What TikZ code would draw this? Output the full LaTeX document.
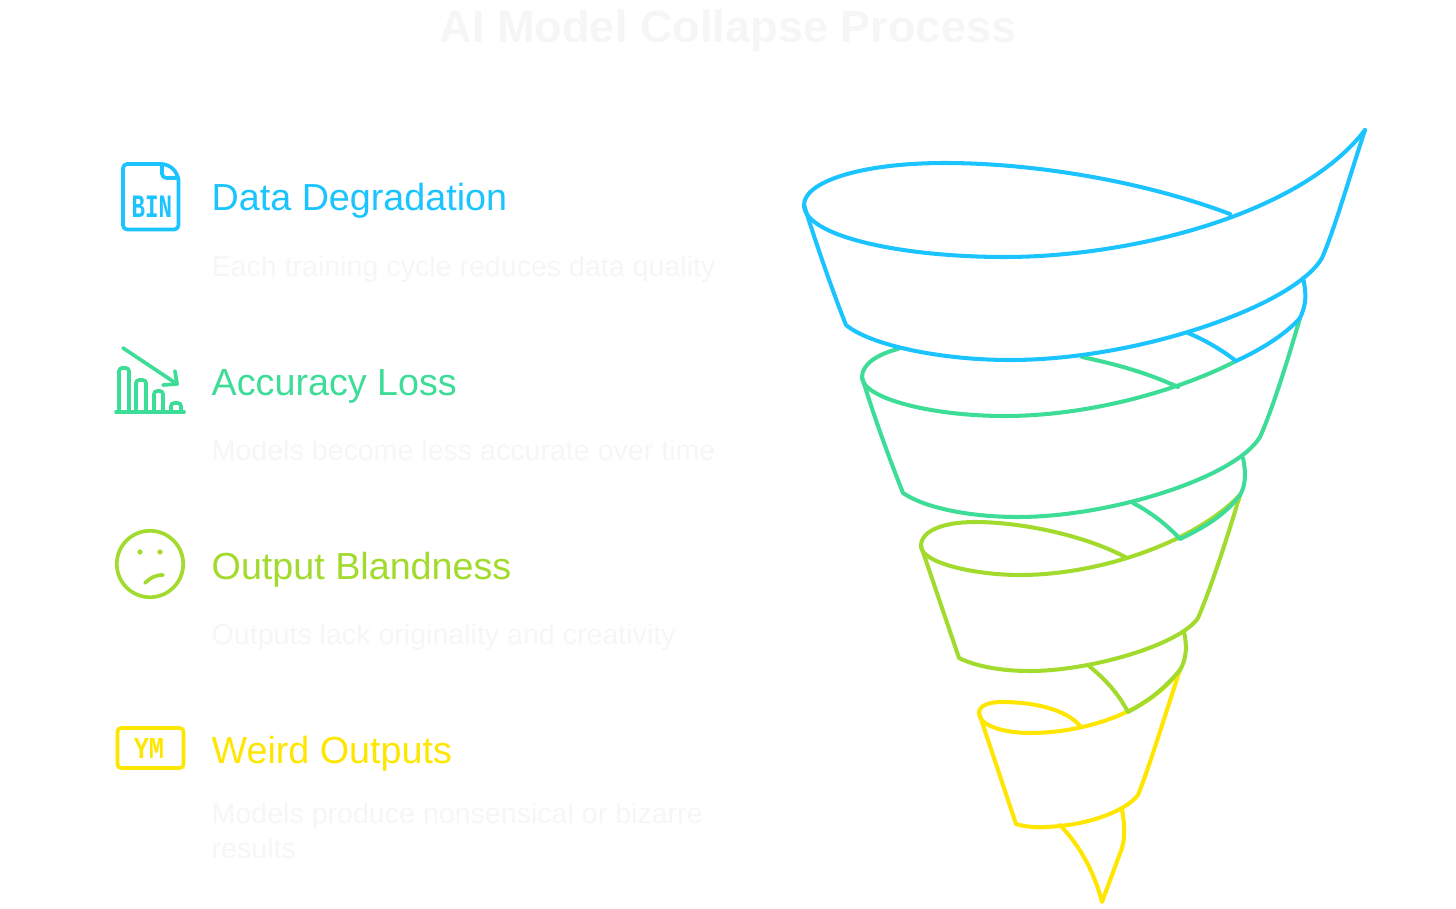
\documentclass[tikz,border=0pt]{standalone}
\usepackage{xcolor}
\usepackage{fontspec}
\setmainfont{Liberation Sans}
\newfontfamily\iconfont{Liberation Mono}[BoldFont={Liberation Mono Bold}]
\definecolor{cblue}{HTML}{1CC4FF}
\definecolor{cgreen}{HTML}{3DDC97}
\definecolor{clime}{HTML}{A2DB2E}
\definecolor{cyellow}{HTML}{FFE600}
\definecolor{cfaint}{HTML}{F6F6F6}
\tikzset{
    band/.style={line width=1.15pt, line join=round, line cap=round},
    icon/.style={line width=1.05pt, line join=round, line cap=round},
    heading/.style={anchor=base west, inner sep=0pt, font=\fontsize{10.72}{12.5}\selectfont},
    blurb/.style={anchor=base west, inner sep=0pt, text=cfaint, font=\fontsize{8.13}{9.96}\selectfont},
}

\begin{document}
\begin{tikzpicture}[x=0.01cm, y=-0.01cm]
            \useasboundingbox (0, 0) rectangle (1456, 909);

            \node[anchor=base, inner sep=0pt, text=cfaint, font=\fontsize{12.83}{15}\selectfont\bfseries] (title) at (728, 43) {AI Model Collapse Process};

            % yellow band
            \draw[band, cyellow] (1081, 727) .. controls (1066, 708) and (1030, 702) .. (1002, 702) .. controls (988, 702) and (979, 706) .. (979, 713) .. controls (979, 726) and (1005, 733) .. (1030, 733) .. controls (1085, 733) and (1150, 712) .. (1180, 670);
            \draw[band, cyellow] (1180, 670) .. controls (1165, 715) and (1150, 765) .. (1138, 795) .. controls (1125, 812) and (1085, 826) .. (1045, 827) .. controls (1035, 828) and (1022, 826) .. (1016, 824) -- (979, 713);
            \draw[band, cyellow] (1122, 810) .. controls (1125, 825) and (1125, 838) .. (1122, 848) -- (1102, 902) .. controls (1095, 875) and (1082, 848) .. (1060, 825);

            % lime band
            \draw[band, clime] (1127, 558) .. controls (1085, 535) and (1020, 522) .. (975, 522) .. controls (945, 522) and (921, 530) .. (921, 546) .. controls (921, 563) and (975, 575) .. (1020, 575) .. controls (1100, 575) and (1195, 542) .. (1240, 495);
            \draw[band, clime] (1240, 495) .. controls (1225, 545) and (1210, 590) .. (1198, 618) .. controls (1180, 645) and (1090, 671) .. (1030, 671) .. controls (1000, 671) and (975, 666) .. (959, 658) -- (921, 546);
            \draw[band, clime] (1184, 632) .. controls (1187, 645) and (1187, 658) .. (1180, 670) .. controls (1165, 688) and (1150, 700) .. (1128, 712) .. controls (1118, 693) and (1105, 679) .. (1089, 666);

            % green band
            \draw[band, cgreen] (1178, 387) .. controls (1145, 372) and (1115, 364) .. (1082, 357);
            \draw[band, cgreen] (898, 349) .. controls (878, 354) and (862, 364) .. (862, 377) .. controls (862, 398) and (930, 416) .. (1005, 416) .. controls (1090, 416) and (1180, 390) .. (1236, 361);
            \draw[band, cgreen] (1300, 318) .. controls (1285, 370) and (1270, 415) .. (1260, 437) .. controls (1235, 478) and (1110, 517) .. (1018, 517) .. controls (970, 517) and (925, 508) .. (903, 493) .. controls (890, 460) and (875, 420) .. (862, 377);
            \draw[band, cgreen] (1243, 458) .. controls (1246, 472) and (1246, 485) .. (1240, 495) .. controls (1225, 515) and (1205, 527) .. (1180, 539) .. controls (1167, 525) and (1152, 513) .. (1133, 503);

            % blue band
            \draw[band, cblue] (1230, 214) .. controls (1140, 180) and (1030, 163) .. (945, 163) .. controls (860, 163) and (804, 182) .. (804, 205) .. controls (804, 236) and (900, 257) .. (1005, 257) .. controls (1130, 257) and (1300, 215) .. (1365, 130);
            \draw[band, cblue] (1365, 130) .. controls (1350, 175) and (1335, 228) .. (1322, 258) .. controls (1295, 305) and (1140, 360) .. (1010, 360) .. controls (940, 360) and (870, 345) .. (846, 325) .. controls (832, 290) and (815, 240) .. (804, 205);
            \draw[band, cblue] (1303, 278) .. controls (1307, 295) and (1306, 305) .. (1300, 318) .. controls (1285, 335) and (1260, 350) .. (1236, 361) .. controls (1222, 350) and (1205, 340) .. (1188, 333);

            % file icon
            \draw[icon, cblue, rounded corners=1.2pt] (162, 164) -- (123, 164) -- (123, 229.5) -- (178.5, 229.5) -- (178.5, 180);
            \draw[icon, cblue] (162, 164) .. controls (171, 165) and (177, 171) .. (178.5, 180);
            \draw[icon, cblue, rounded corners=1.2pt] (162, 164) -- (162, 178) -- (178.5, 178);
            \node[inner sep=0pt, text=cblue, yscale=1.45, font=\fontsize{6.4}{7}\iconfont\bfseries] (binlabel) at (152, 207) {BIN};
            \node[heading, text=cblue] (head1) at (211, 211) {Data Degradation};
            \node[blurb] (blurb1) at (211, 276) {Each training cycle reduces data quality};

            % chart icon
            \draw[icon, cgreen] (116, 412) -- (184, 412);
            \draw[icon, cgreen, rounded corners=0.9pt] (119, 412) -- (119, 368) -- (129, 368) -- (129, 412);
            \draw[icon, cgreen, rounded corners=0.9pt] (136, 412) -- (136, 380) -- (146, 380) -- (146, 412);
            \draw[icon, cgreen, rounded corners=0.9pt] (154, 412) -- (154, 391) -- (163, 391) -- (163, 412);
            \draw[icon, cgreen, rounded corners=0.9pt] (171, 412) -- (171, 403) -- (181, 403) -- (181, 412);
            \draw[icon, cgreen] (123, 348) -- (177, 384);
            \draw[icon, cgreen] (175, 371) -- (177, 384) -- (163, 385);
            \node[heading, text=cgreen] (head2) at (211, 395) {Accuracy Loss};
            \node[blurb] (blurb2) at (211, 460) {Models become less accurate over time};

            % face icon
            \draw[icon, clime] (150, 564) circle [radius=33.2];
            \fill[clime] (140, 552) circle [radius=2.6];
            \fill[clime] (160, 552) circle [radius=2.6];
            \draw[icon, clime] (145, 583) .. controls (150, 578) and (155, 575) .. (163, 575);
            \node[heading, text=clime] (head3) at (211, 579) {Output Blandness};
            \node[blurb] (blurb3) at (211, 644) {Outputs lack originality and creativity};

            % currency icon
            \draw[icon, cyellow, rounded corners=1pt] (117.5, 728) rectangle (183.5, 768);
            \node[inner sep=0pt, text=cyellow, yscale=1.2, font=\fontsize{7.2}{8}\iconfont\bfseries] (ymlabel) at (149, 748) {YM};
            \node[heading, text=cyellow] (head4) at (211, 763) {Weird Outputs};
            \node[blurb, anchor=north west, align=left] (blurb4) at (211, 802) {Models produce nonsensical or bizarre\\results};
        \end{tikzpicture}
\end{document}
